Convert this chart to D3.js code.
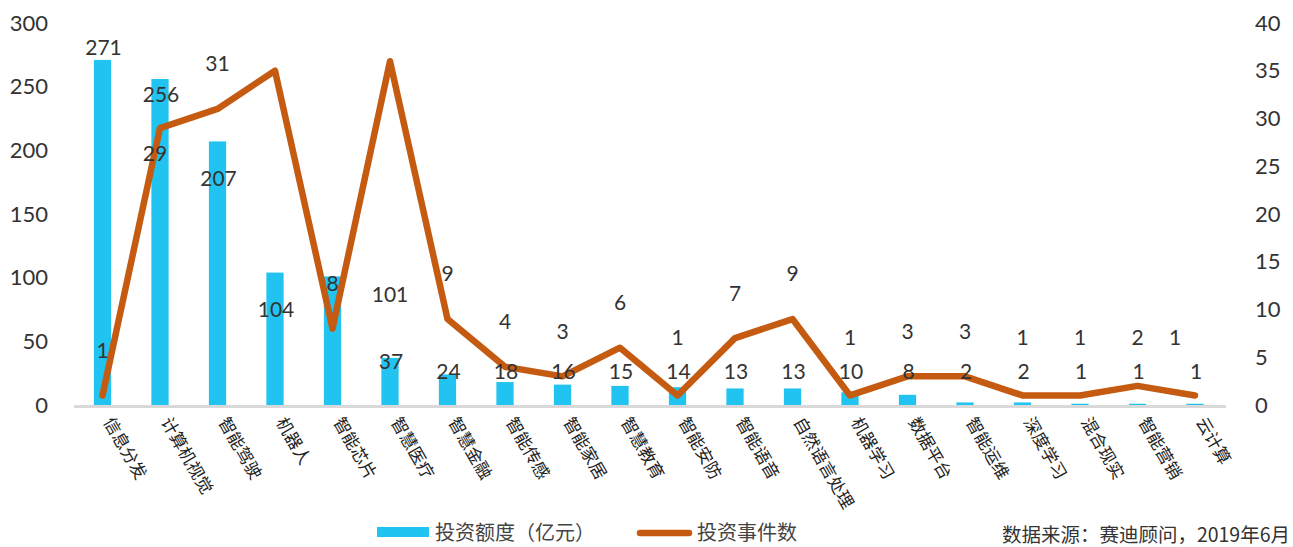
<!DOCTYPE html>
<html><head><meta charset="utf-8">
<script src="https://cdn.jsdelivr.net/npm/d3@7"></script>
<style>
html,body{margin:0;padding:0;background:#fff;}
svg{display:block;}
</style></head>
<body>
<svg id="chart" width="1293" height="547"></svg>
<script>
const categories = ["信息分发","计算机视觉","智能驾驶","机器人","智能芯片","智慧医疗","智慧金融","智能传感","智能家居","智慧教育","智能安防","智能语音","自然语言处理","机器学习","数据平台","智能运维","深度学习","混合现实","智能营销","云计算"];
const amounts = [271,256,207,104,101,37,24,18,16,15,14,13,13,10,8,2,2,1,1,1];
const events = [1,29,31,35,8,36,9,4,3,6,1,7,9,1,3,3,1,1,2,1];
const leftTicks = [0,50,100,150,200,250,300];
const rightTicks = [0,5,10,15,20,25,30,35,40];
const legendBar = "投资额度（亿元）";
const legendLine = "投资事件数";
const source = "数据来源：赛迪顾问，2019年6月";

const svg = d3.select("#chart");
const numFont = "Lato, 'Open Sans', sans-serif";
const cjkFont = "'Noto Sans CJK SC', sans-serif";
const barColor = "#21C3F0", lineColor = "#C55A11", textColor = "#333";

const x = d3.scaleBand().domain(categories).range([73.75, 1223.75]).paddingInner(0.7).paddingOuter(0.35);
const yL = d3.scaleLinear().domain([0,300]).range([405,23]);
const yR = d3.scaleLinear().domain([0,40]).range([405,23]);
const cx = c => x(c) + x.bandwidth()/2;

// left axis labels
svg.append("g").selectAll("text").data(leftTicks).join("text")
  .attr("x", 48).attr("y", d => yL(d)).attr("dy","0.35em")
  .attr("text-anchor","end").attr("font-family", numFont).attr("font-size", 22)
  .attr("fill", textColor).text(d => d);
// right axis labels
svg.append("g").selectAll("text").data(rightTicks).join("text")
  .attr("x", 1255).attr("y", d => yR(d)).attr("dy","0.35em")
  .attr("text-anchor","start").attr("font-family", numFont).attr("font-size", 22)
  .attr("fill", textColor).text(d => d);

// bars
svg.append("g").selectAll("rect").data(categories).join("rect")
  .attr("x", c => x(c)).attr("width", x.bandwidth())
  .attr("y", (c,i) => yL(amounts[i])).attr("height", (c,i) => yL(0) - yL(amounts[i]))
  .attr("fill", barColor);

// x axis line
svg.append("line").attr("x1", 74).attr("x2", 1226).attr("y1", 406.5).attr("y2", 406.5)
  .attr("stroke", "#d9d9d9").attr("stroke-width", 3);

// line
const line = d3.line().x((d,i) => cx(categories[i])).y(d => yR(d));
svg.append("path").datum(events).attr("d", line)
  .attr("fill","none").attr("stroke", lineColor).attr("stroke-width", 6.5)
  .attr("stroke-linejoin","round").attr("stroke-linecap","round");

// bar labels
const barLabelFloor = yL(26);
function barLabelY(v){
  if (v > 260) return yL(v) - 12;
  if (v > 250) return yL(v) + 16;
  if (v > 102) return yL(v) + 37;
  if (v > 50) return yL(v) + 18;
  return Math.min(yL(v) + 4, barLabelFloor);
}
svg.append("g").selectAll("text").data(categories).join("text")
  .attr("x", (c,i) => cx(c) + (amounts[i] > 100 && amounts[i] < 102 ? x.step() : 1))
  .attr("y", (c,i) => barLabelY(amounts[i])).attr("dy","0.35em")
  .attr("text-anchor","middle").attr("font-family", numFont).attr("font-size", 21)
  .attr("fill", textColor).text((c,i) => amounts[i]);

// line labels (the two peaks carry no label in the original)
function lineLabelY(i){
  const v = events[i];
  if (i === 1) return yR(v) + 26;
  let y = yR(v) - 45;
  if (amounts[i] < 50) y = Math.min(y, barLabelFloor - 34);
  return y;
}
const lineLabelIdx = d3.range(events.length).filter(i => events[i] < 33);
svg.append("g").selectAll("text").data(lineLabelIdx).join("text")
  .attr("x", i => cx(categories[i]) + (i === 1 ? -5 : (i === events.length-1 ? -20 : 0)))
  .attr("y", i => lineLabelY(i)).attr("dy","0.35em")
  .attr("text-anchor","middle").attr("font-family", numFont).attr("font-size", 21)
  .attr("fill", textColor).text(i => events[i]);

// category labels
svg.append("g").selectAll("text").data(categories).join("text")
  .attr("transform", c => `translate(${cx(c)+7},418) rotate(60)`)
  .attr("dominant-baseline","central")
  .attr("text-anchor","start").attr("font-family", cjkFont).attr("font-size", 17)
  .attr("fill", "#222").text(c => c);

// legend
const lg = svg.append("g");
lg.append("rect").attr("x",377).attr("y",527).attr("width",52).attr("height",10).attr("fill",barColor);
lg.append("text").attr("x",435).attr("y",533).attr("dy","0.35em").attr("font-family",cjkFont)
  .attr("font-size",20).attr("fill","#444").text(legendBar);
lg.append("line").attr("x1",640).attr("x2",689).attr("y1",533).attr("y2",533)
  .attr("stroke",lineColor).attr("stroke-width",6.5).attr("stroke-linecap","round");
lg.append("text").attr("x",697).attr("y",533).attr("dy","0.35em").attr("font-family",cjkFont)
  .attr("font-size",20).attr("fill","#444").text(legendLine);

// source
svg.append("text").attr("x",1290).attr("y",535).attr("dy","0.35em").attr("text-anchor","end")
  .attr("font-family",cjkFont).attr("font-size",19.5).attr("font-weight",400)
  .attr("fill","#333").text(source);
</script>
</body></html>
